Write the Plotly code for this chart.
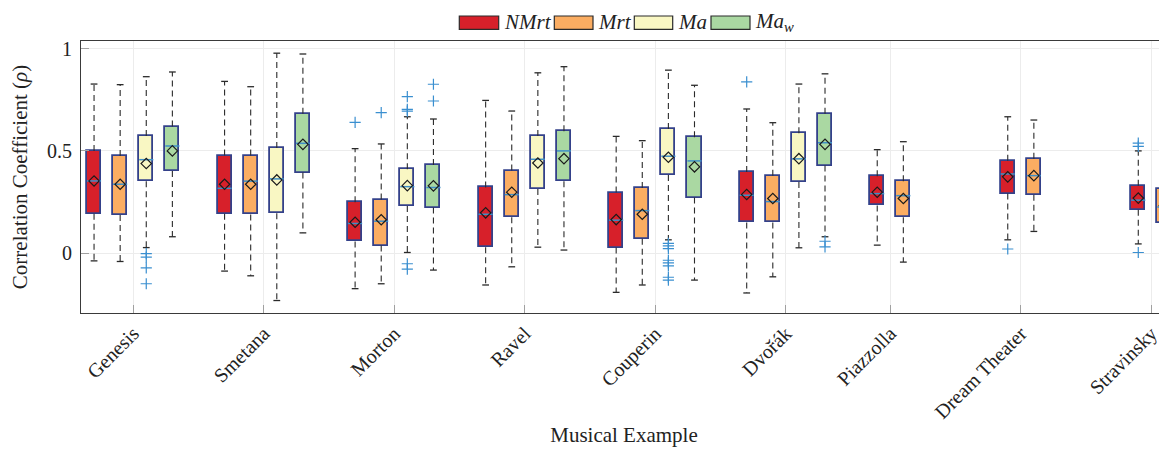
import plotly.graph_objects as go

# ---------------- data ----------------
categories = ["Genesis", "Smetana", "Morton", "Ravel", "Couperin",
              "Dvořák", "Piazzolla", "Dream Theater", "Stravinsky"]

series_names = ["NMrt", "Mrt", "Ma", "Ma_w"]
series_labels = ["<i>NMrt</i>", "<i>Mrt</i>", "<i>Ma</i>", "<i>Ma<sub>w</sub></i>"]
series_colors = ["#d7202a", "#fbad62", "#f9f7c3", "#aad8a2"]

# NMrt
nmrt_q1 = [0.193, 0.193, 0.057, 0.029, 0.027, 0.150, 0.233, 0.291, 0.212]
nmrt_med = [0.353, 0.317, 0.145, 0.190, 0.161, 0.283, 0.291, 0.387, 0.259]
nmrt_q3 = [0.500, 0.477, 0.249, 0.321, 0.296, 0.397, 0.376, 0.452, 0.330]
nmrt_lo = [-0.038, -0.088, -0.174, -0.156, -0.192, -0.195, 0.039, 0.065, 0.045]
nmrt_hi = [0.827, 0.840, 0.511, 0.747, 0.571, 0.705, 0.506, 0.667, 0.500]
nmrt_mean = [0.353, 0.337, 0.151, 0.197, 0.164, 0.287, 0.298, 0.373, 0.269]
nmrt_out = {"Morton": [0.640], "Dvořák": [0.838], "Dream Theater": [0.020],
            "Stravinsky": [0.538, 0.522, 0.003]}

# Mrt
mrt_q1 = [0.187, 0.189, 0.037, 0.176, 0.070, 0.150, 0.176, 0.286, 0.145]
mrt_med = [0.337, 0.352, 0.156, 0.286, 0.208, 0.252, 0.281, 0.379, 0.226]
mrt_q3 = [0.475, 0.477, 0.262, 0.404, 0.319, 0.379, 0.352, 0.462, 0.314]
mrt_lo = [-0.041, -0.111, -0.150, -0.067, -0.156, -0.116, -0.044, 0.106, -0.036]
mrt_hi = [0.824, 0.814, 0.534, 0.695, 0.550, 0.638, 0.545, 0.651, 0.547]
mrt_mean = [0.337, 0.337, 0.163, 0.298, 0.190, 0.267, 0.267, 0.379, 0.233]
mrt_out = {"Morton": [0.687]}

# Ma
ma_q1 = [0.352, 0.195, 0.231, 0.314, 0.382, 0.348, None, None, None]
ma_med = [0.457, 0.363, 0.325, 0.459, 0.474, 0.461, None, None, None]
ma_q3 = [0.573, 0.514, 0.410, 0.573, 0.607, 0.586, None, None, None]
ma_lo = [0.027, -0.232, 0.003, 0.029, 0.065, 0.026, None, None, None]
ma_hi = [0.863, 0.978, 0.667, 0.882, 0.895, 0.827, None, None, None]
ma_mean = [0.438, 0.358, 0.330, 0.441, 0.469, 0.462, None, None, None]
ma_out = {"Genesis": [-0.003, -0.020, -0.072, -0.150],
          "Morton": [0.765, 0.703, 0.695, -0.052, -0.078],
          "Couperin": [0.048, 0.035, 0.022, -0.035, -0.048, -0.062, -0.118, -0.132]}

# Ma_w
maw_q1 = [0.402, 0.394, 0.223, 0.352, 0.272, 0.428, None, None, None]
maw_med = [0.524, 0.537, 0.321, 0.500, 0.451, 0.540, None, None, None]
maw_q3 = [0.619, 0.682, 0.431, 0.596, 0.567, 0.682, None, None, None]
maw_lo = [0.080, 0.099, -0.083, 0.015, -0.132, 0.080, None, None, None]
maw_hi = [0.886, 0.974, 0.656, 0.912, 0.821, 0.877, None, None, None]
maw_mean = [0.500, 0.532, 0.329, 0.462, 0.422, 0.532, None, None, None]
maw_out = {"Morton": [0.826, 0.744], "Dvořák": [0.058, 0.030]}

y_ticks = [0, 0.5, 1]
y_tick_text = ["0", "0.5", "1"]

stats = {
    "NMrt": (nmrt_q1, nmrt_med, nmrt_q3, nmrt_lo, nmrt_hi, nmrt_mean, nmrt_out),
    "Mrt": (mrt_q1, mrt_med, mrt_q3, mrt_lo, mrt_hi, mrt_mean, mrt_out),
    "Ma": (ma_q1, ma_med, ma_q3, ma_lo, ma_hi, ma_mean, ma_out),
    "Ma_w": (maw_q1, maw_med, maw_q3, maw_lo, maw_hi, maw_mean, maw_out),
}

# ---------------- layout helpers ----------------
GROUP_STEP = 5
BOX_W = 0.54
CAP_HW = 0.13
FONT = "Liberation Serif, Times New Roman, serif"
TXT = "#222222"

def present(i):
    return [s for s in series_names if stats[s][0][i] is not None]

def xpos(i, s):
    return GROUP_STEP * i + present(i).index(s)

centers = [GROUP_STEP * i + (len(present(i)) - 1) / 2 for i in range(len(categories))]

fig = go.Figure()

for s, color in zip(series_names, series_colors):
    q1, med, q3, lo, hi, mean, out = stats[s]
    idx = [i for i in range(len(categories)) if q1[i] is not None]
    xs = [xpos(i, s) for i in idx]

    # whiskers (dashed)
    wx, wy = [], []
    for i, x in zip(idx, xs):
        wx += [x, x, None, x, x, None]
        wy += [q3[i], hi[i], None, q1[i], lo[i], None]
    fig.add_trace(go.Scatter(x=wx, y=wy, mode="lines", showlegend=False,
                             line=dict(color="#2a2a2a", width=1.1, dash="6px,4px"),
                             hoverinfo="skip"))
    # caps
    cx, cy = [], []
    for i, x in zip(idx, xs):
        cx += [x - CAP_HW, x + CAP_HW, None, x - CAP_HW, x + CAP_HW, None]
        cy += [hi[i], hi[i], None, lo[i], lo[i], None]
    fig.add_trace(go.Scatter(x=cx, y=cy, mode="lines", showlegend=False,
                             line=dict(color="#2a2a2a", width=1.3), hoverinfo="skip"))
    # boxes
    fig.add_trace(go.Bar(x=xs, y=[q3[i] - q1[i] for i in idx],
                         base=[q1[i] for i in idx], width=BOX_W, name=s,
                         marker=dict(color=color, line=dict(color="#34418a", width=1.8)),
                         showlegend=False))
    # medians
    mx, my = [], []
    for i, x in zip(idx, xs):
        mx += [x - BOX_W / 2, x + BOX_W / 2, None]
        my += [med[i], med[i], None]
    fig.add_trace(go.Scatter(x=mx, y=my, mode="lines", showlegend=False,
                             line=dict(color="#3f8fc6", width=1.5), hoverinfo="skip"))
    # means
    fig.add_trace(go.Scatter(x=xs, y=[mean[i] for i in idx], mode="markers",
                             showlegend=False,
                             marker=dict(symbol="diamond-open", size=8,
                                         color="#1a1a1a", line=dict(width=1.2))))
    # outliers
    ox, oy = [], []
    for i in idx:
        for v in out.get(categories[i], []):
            ox.append(xpos(i, s))
            oy.append(v)
    if ox:
        fig.add_trace(go.Scatter(x=ox, y=oy, mode="markers", showlegend=False,
                                 marker=dict(symbol="cross-thin", size=8,
                                             line=dict(color="#3a8fd0", width=1.2))))

# ---------------- manual legend ----------------
OFF = 8  # browser body margin
PAGE_W, PAGE_H = 1167, 455
W, H = PAGE_W - OFF, PAGE_H - 2 * OFF
# plot area in page pixels: left 81, right 1167, top 41, bottom 313
ML, MR, MT = 81 - OFF, 0, 41 - OFF
MB = H - (313 - OFF)

def px_x(p):
    return (p - 81) / (1167 - 81)

def px_y(p):
    return (313 - p) / (313 - 41)

legend_rects = [(459.3, 498.7), (554.3, 593.0), (634.3, 672.7), (711.0, 750.0)]
for (x0, x1), color, lab in zip(legend_rects, series_colors, series_labels):
    fig.add_shape(type="rect", xref="paper", yref="paper",
                  x0=px_x(x0), x1=px_x(x1), y0=px_y(29.3), y1=px_y(16),
                  fillcolor=color, line=dict(color="#2a2a2a", width=1.2))
    fig.add_annotation(xref="paper", yref="paper", x=px_x(x1 + 3), y=px_y(22.5),
                       xanchor="left", yanchor="middle", showarrow=False,
                       text=lab, font=dict(family=FONT, size=21, color=TXT))

fig.update_layout(
    width=W, height=H,
    margin=dict(l=ML, r=MR, t=MT, b=MB, pad=0),
    plot_bgcolor="white", paper_bgcolor="white",
    bargap=0, barmode="overlay",
    font=dict(family=FONT, size=20, color=TXT),
    xaxis=dict(range=[-0.5, 41.1], tickvals=centers, ticktext=categories,
               tickangle=-45, tickfont=dict(family=FONT, size=20, color=TXT),
               showgrid=True, gridcolor="#ececec", gridwidth=1,
               ticks="inside", ticklen=8, tickcolor="#a0a0a0",
               showline=True, linecolor="#3a3a3a", linewidth=1, mirror=True,
               zeroline=False,
               title=dict(text="Musical Example", standoff=10,
                          font=dict(family=FONT, size=21, color=TXT))),
    yaxis=dict(range=[-0.293, 1.0376], tickvals=y_ticks, ticktext=y_tick_text,
               tickfont=dict(family=FONT, size=20, color=TXT),
               showgrid=True, gridcolor="#ececec", gridwidth=1,
               ticks="inside", ticklen=8, tickcolor="#a0a0a0",
               showline=True, linecolor="#3a3a3a", linewidth=1,
               zeroline=False, ticklabelstandoff=4,
               title=dict(text="Correlation Coefficient (<i>ρ</i>)", standoff=13,
                          font=dict(family=FONT, size=21, color=TXT))),
)

fig.write_html("out.html",
               post_script="document.documentElement.style.overflow='hidden';")
